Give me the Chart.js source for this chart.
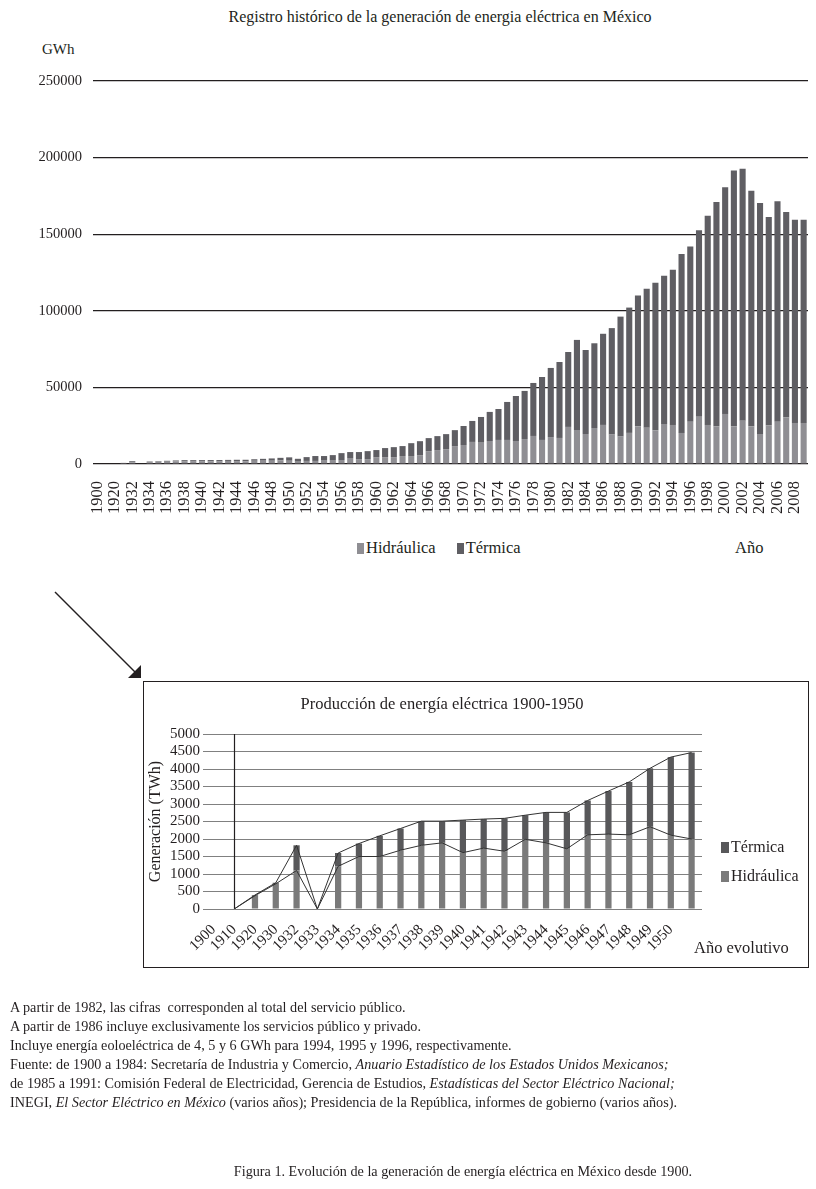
<!DOCTYPE html>
<html><head><meta charset="utf-8">
<script src="https://cdn.jsdelivr.net/npm/chart.js@4.4.1/dist/chart.umd.min.js"></script>
<style>
body{margin:0;background:#fff;width:816px;height:1189px;position:relative;font-family:'Liberation Serif',serif;color:#231f20;overflow:hidden}
.abs{position:absolute;white-space:nowrap}
.sq{display:inline-block;width:7px;height:11px;margin-right:2px;vertical-align:-1px}
.fn{position:absolute;left:10px;top:998px;font-size:14.2px;line-height:19px;white-space:nowrap}
</style></head><body>
<div class="abs" style="left:140px;width:600px;text-align:center;top:8px;font-size:16px">Registro histórico de la generación de energia eléctrica en México</div>
<div class="abs" style="left:42px;top:41px;font-size:15px">GWh</div>
<div class="abs" style="left:0;top:70px;width:816px;height:450px"><canvas id="c1"></canvas></div>
<div class="abs" style="left:357px;top:538px;font-size:16.5px"><span class="sq" style="background:#8f8e93"></span>Hidráulica<span style="display:inline-block;width:21px"></span><span class="sq" style="background:#5f5e63"></span>Térmica</div>
<div class="abs" style="left:735px;top:538px;font-size:16.5px">Año</div>

<svg class="abs" style="left:0;top:0" width="816" height="1189">
<line x1="55" y1="592" x2="136" y2="673" stroke="#231f20" stroke-width="1.5"/>
<polygon points="141,678 141,665 128,678" fill="#231f20"/>
</svg>

<div class="abs" style="left:143px;top:681px;width:664px;height:285px;border:1px solid #231f20"></div>
<div class="abs" style="left:142px;width:600px;text-align:center;top:694px;font-size:16.5px">Producción de energía eléctrica 1900-1950</div>
<div class="abs" style="left:145px;top:683px;width:660px;height:282px"><canvas id="c2"></canvas></div>
<div class="abs" style="left:721px;top:838px;font-size:16px"><span class="sq" style="background:#58585a;width:8px"></span>Térmica</div>
<div class="abs" style="left:721px;top:867px;font-size:16px"><span class="sq" style="background:#7a7a7a;width:8px"></span>Hidráulica</div>
<div class="abs" style="left:694px;top:938px;font-size:16.5px">Año evolutivo</div>

<div class="fn">A partir de 1982, las cifras &nbsp;corresponden al total del servicio público.<br>
A partir de 1986 incluye exclusivamente los servicios público y privado.<br>
Incluye energía eoloeléctrica de 4, 5 y 6 GWh para 1994, 1995 y 1996, respectivamente.<br>
Fuente: de 1900 a 1984: Secretaría de Industria y Comercio, <i>Anuario Estadístico de los Estados Unidos Mexicanos;</i><br>
de 1985 a 1991: Comisión Federal de Electricidad, Gerencia de Estudios, <i>Estadísticas del Sector Eléctrico Nacional;</i><br>
INEGI, <i>El Sector Eléctrico en México</i> (varios años); Presidencia de la República, informes de gobierno (varios años).</div>
<div class="abs" style="left:163px;width:600px;text-align:center;top:1163px;font-size:14.2px">Figura 1. Evolución de la generación de energía eléctrica en México desde 1900.</div>

<script>
// ---------- Top chart data (GWh) ----------
const topYears = ['1900','1910','1920','1930','1932','1933','1934','1935','1936','1937','1938','1939','1940','1941','1942','1943','1944','1945','1946','1947','1948','1949','1950',
'1951','1952','1953','1954','1955','1956','1957','1958','1959','1960','1961','1962','1963','1964','1965','1966','1967','1968','1969','1970',
'1971','1972','1973','1974','1975','1976','1977','1978','1979','1980','1981','1982','1983','1984','1985','1986','1987','1988','1989','1990',
'1991','1992','1993','1994','1995','1996','1997','1998','1999','2000','2001','2002','2003','2004','2005','2006','2007','2008','2009'];
const topHydro = [0,0,380,720,1100,0,1220,1500,1500,1680,1820,1890,1610,1740,1650,1990,1890,1720,2120,2140,2120,2350,2110,
1500,2000,2000,2600,2600,2600,3900,3200,3200,4500,4500,4500,5200,5200,5800,8400,9100,9700,11700,12400,
14400,13900,15000,15700,15700,15000,16300,18300,15700,17600,17000,24200,22200,19600,23500,25500,19200,17900,20300,24400,
23700,21800,26100,25500,20300,27500,30900,25500,24400,32700,24400,28300,24400,19600,25100,27500,30300,26800,26800];
const topThermal = [0,0,20,30,720,0,380,370,590,620,690,620,930,830,940,690,870,1040,980,1230,1510,1670,2230,
1900,2500,3200,2600,3200,4500,3900,4600,5200,4600,5900,6500,6500,8400,9100,8500,9100,9800,10400,12400,
13700,16800,19000,20200,24800,29400,31400,34600,41100,45100,49600,48900,58800,54800,55300,59500,69500,78300,81800,85600,
90700,96500,96800,101300,116700,114500,121600,136600,146600,147900,167100,164500,154000,150800,136100,144000,134200,132700,132700];
const topYMax = 250000, topYStep = 50000;

// ---------- Lower chart data (1900-1950) ----------
const lowYears = ['1900','1910','1920','1930','1932','1933','1934','1935','1936','1937','1938','1939','1940','1941','1942','1943','1944','1945','1946','1947','1948','1949','1950',''];
const lowHydro = [null,0,380,720,1100,0,1220,1500,1500,1680,1820,1890,1610,1740,1650,1990,1890,1720,2120,2140,2120,2350,2110,2000];
const lowThermal = [null,0,20,30,720,0,380,370,590,620,690,620,930,830,940,690,870,1040,980,1230,1510,1670,2230,2470];
const lowYMax = 5000, lowYStep = 500;
const lowDividerIndex = 1;

const lowTotal = lowHydro.map((h,i)=> h===null ? null : h + lowThermal[i]);
const ink = '#231f20';
const serif = 'Liberation Serif';
const noPadX = s => { s.paddingLeft = 0; s.paddingRight = 0; };
const noPadY = s => { s.paddingTop = 0; s.paddingBottom = 0; };

new Chart(document.getElementById('c1'), {
  type: 'bar',
  data: { labels: topYears, datasets: [
    { label: 'Hidráulica', data: topHydro, backgroundColor: '#8f8e93', barPercentage: 0.7, categoryPercentage: 1 },
    { label: 'Térmica', data: topThermal, backgroundColor: '#5f5e63', barPercentage: 0.7, categoryPercentage: 1 }
  ]},
  options: {
    responsive: true, maintainAspectRatio: false, animation: false,
    layout: { padding: { top: 11, right: 8, left: 0, bottom: 0 } },
    plugins: { legend: { display: false }, tooltip: { enabled: false } },
    scales: {
      x: { stacked: true, grid: { display: false }, border: { display: false },
           ticks: { autoSkip: false, maxRotation: 90, minRotation: 90, padding: 9, color: ink,
                    font: { family: serif, size: 16.5 },
                    callback: (v, i) => (i % 2 === 0 ? topYears[i] : '') },
           afterFit: s => { s.height = 56; noPadX(s); } },
      y: { stacked: true, min: 0, max: topYMax,
           ticks: { stepSize: topYStep, padding: 11, color: ink, font: { family: serif, size: 14.5 }, callback: v => String(v) },
           grid: { color: ink, lineWidth: 1.2, drawTicks: false }, border: { display: false },
           afterFit: s => { s.width = 93; noPadY(s); } }
    }
  }
});

const divider = {
  id: 'divider',
  beforeDatasetsDraw(chart) {
    const { ctx, scales: { x, y } } = chart;
    const px = Math.round(x.getPixelForValue(lowDividerIndex)) + 0.5;
    ctx.save();
    ctx.strokeStyle = ink; ctx.lineWidth = 1.2;
    ctx.beginPath(); ctx.moveTo(px, y.getPixelForValue(0)); ctx.lineTo(px, y.getPixelForValue(lowYMax)); ctx.stroke();
    ctx.restore();
  }
};

new Chart(document.getElementById('c2'), {
  data: { labels: lowYears, datasets: [
    { type: 'line', label: 'total', data: lowTotal, borderColor: '#333', borderWidth: 1, pointRadius: 0, tension: 0, stack: 'lt', order: 0 },
    { type: 'line', label: 'hidro', data: lowHydro, borderColor: '#333', borderWidth: 1, pointRadius: 0, tension: 0, stack: 'lh', order: 0 },
    { type: 'bar', label: 'Hidráulica', data: lowHydro, backgroundColor: '#7a7a7a', stack: 'b', order: 1, barPercentage: 0.3, categoryPercentage: 1 },
    { type: 'bar', label: 'Térmica', data: lowThermal, backgroundColor: '#58585a', stack: 'b', order: 1, barPercentage: 0.3, categoryPercentage: 1 }
  ]},
  options: {
    responsive: true, maintainAspectRatio: false, animation: false,
    layout: { padding: { top: 51, right: 103, left: 0, bottom: 0 } },
    plugins: { legend: { display: false }, tooltip: { enabled: false } },
    scales: {
      x: { stacked: true, grid: { display: false }, border: { display: false },
           ticks: { autoSkip: false, maxRotation: 45, minRotation: 45, padding: 4, color: ink, font: { family: serif, size: 15 } },
           afterFit: s => { s.height = 56; noPadX(s); } },
      y: { stacked: true, min: 0, max: lowYMax,
           title: { display: true, text: 'Generación (TWh)', color: ink, font: { family: serif, size: 16 }, padding: { top: 1, bottom: 0 } },
           ticks: { autoSkip: false, stepSize: lowYStep, padding: 3, color: ink, font: { family: serif, size: 15 }, callback: v => String(v) },
           grid: { color: '#808080', lineWidth: 1, drawTicks: false }, border: { display: false },
           afterFit: s => { s.width = 58; noPadY(s); } }
    }
  },
  plugins: [divider]
});
</script>
</body></html>
